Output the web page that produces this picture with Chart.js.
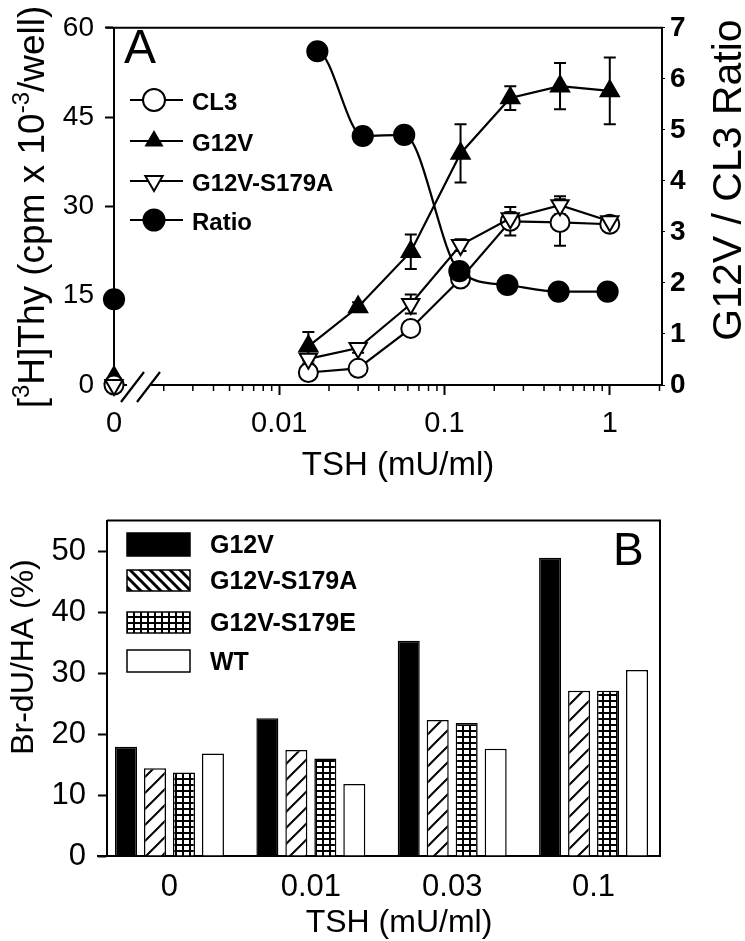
<!DOCTYPE html>
<html><head><meta charset="utf-8">
<script src="https://cdn.jsdelivr.net/npm/chart.js@4/dist/chart.umd.min.js"></script>
<style>
html,body{margin:0;padding:0;background:#fff;}
#wrapA{position:absolute;left:0;top:0;width:745px;height:490px;}
#wrapB{position:absolute;left:0;top:490px;width:745px;height:451px;}
canvas{display:block;}
</style></head><body>
<div id="wrapA"><canvas id="cA" width="745" height="490"></canvas></div>
<div id="wrapB"><canvas id="cB" width="745" height="451"></canvas></div>
<script>
// ================= Panel A data =================
const doses      = [0, 0.015, 0.03, 0.0625, 0.125, 0.25, 0.5, 1];
const cl3        = [0, 2.1, 2.8, 9.5, 17.8, 27.5, 27.3, 27.0];
const cl3Err     = [0, 0.6, 0.5, 1.2, 1.0, 2.4, 3.9, 0.8];
const g12v       = [1.3, 6.5, 13.1, 22.4, 38.9, 48.2, 50.2, 49.4];
const g12vErr    = [0, 2.4, 0.8, 2.9, 4.9, 2.0, 3.9, 5.6];
const s179a      = [0, 4.4, 6.2, 13.6, 23.5, 28.0, 30.2, 27.5];
const s179aErr   = [0, 0.8, 0.8, 1.6, 1.0, 1.0, 1.5, 0.8];
const ratioDoses = [0, 0.017, 0.032, 0.057, 0.123, 0.24, 0.49, 0.97];
const ratio      = [1.68, 6.54, 4.88, 4.90, 2.23, 1.96, 1.83, 1.83];
const xMajorTicks = [0, 0.01, 0.1, 1];
const xTickLabels = ['0', '0.01', '0.1', '1'];
const yLeftTicks  = [0, 15, 30, 45, 60];
const yRightTicks = [0, 1, 2, 3, 4, 5, 6, 7];

// ================= Panel B data =================
const barCategories = ['0', '0.01', '0.03', '0.1'];
const barG12V  = [17.9, 22.6, 35.3, 48.9];
const barS179A = [14.4, 17.4, 22.3, 27.1];
const barS179E = [13.7, 16.0, 21.8, 27.1];
const barWT    = [16.8, 11.8, 17.6, 30.5];
const barYTicks = [0, 10, 20, 30, 40, 50];

// ================= helpers =================
const FONT = "'Liberation Sans', Arial, Helvetica, sans-serif";
Chart.defaults.font.family = FONT;
Chart.defaults.color = '#000';

const ZERO_AT = 0.001; // position of the "0" dose left of the axis break
const xPos = d => d === 0 ? ZERO_AT : d;
const near = (a, b) => Math.abs(Math.log10(a) - Math.log10(b)) < 1e-6;
const majorPos = xMajorTicks.map(xPos);
const minorPos = [];
[0.001, 0.01, 0.1].forEach(dec => { for (let k = 2; k <= 9; k++) minorPos.push(+(k * dec).toPrecision(3)); });
minorPos.push(2);

function pts(xs, ys) { return ys.map((v, i) => ({x: xPos(xs[i]), y: v})); }

function drawMarker(ctx, style, x, y, r, fill, rot) {
  ctx.save(); ctx.beginPath();
  if (style === 'circle') ctx.arc(x, y, r, 0, Math.PI * 2);
  else {
    let a = (rot || 0) * Math.PI / 180;
    for (let k = 0; k < 3; k++) {
      const px = x + Math.sin(a) * r, py = y - Math.cos(a) * r;
      k ? ctx.lineTo(px, py) : ctx.moveTo(px, py);
      a += 2 * Math.PI / 3;
    }
    ctx.closePath();
  }
  ctx.fillStyle = fill; ctx.fill();
  ctx.lineWidth = 2; ctx.strokeStyle = '#000'; ctx.stroke();
  ctx.restore();
}

function rotText(ctx, segs, cx, cy, baseOff) {
  // text reading bottom-to-top, centered at (cx, cy)
  ctx.save();
  ctx.translate(cx, cy); ctx.rotate(-Math.PI / 2);
  ctx.textBaseline = 'alphabetic'; ctx.textAlign = 'left'; ctx.fillStyle = '#000';
  let total = 0;
  segs.forEach(s => { ctx.font = s.font; total += ctx.measureText(s.t).width; });
  let x = -total / 2;
  segs.forEach(s => { ctx.font = s.font; ctx.fillText(s.t, x, baseOff - (s.rise || 0)); x += ctx.measureText(s.t).width; });
  ctx.restore();
}

const hideSeg = c => c.p0DataIndex === 0 ? 'rgba(0,0,0,0)' : '#000';

// ================= Panel A =================
const errorBarsA = {
  id: 'errorBarsA',
  beforeDatasetsDraw(chart) {
    const ctx = chart.ctx;
    chart.data.datasets.forEach((ds, i) => {
      if (!ds.errors) return;
      const ys = chart.scales[ds.yAxisID || 'y'];
      chart.getDatasetMeta(i).data.forEach((p, j) => {
        const e = ds.errors[j]; if (!e) return;
        const v = ds.data[j].y;
        const t = ys.getPixelForValue(v + e), b = ys.getPixelForValue(v - e);
        ctx.save(); ctx.strokeStyle = '#000'; ctx.lineWidth = 2;
        ctx.beginPath();
        ctx.moveTo(p.x, t); ctx.lineTo(p.x, b);
        ctx.moveTo(p.x - 6, t); ctx.lineTo(p.x + 6, t);
        ctx.moveTo(p.x - 6, b); ctx.lineTo(p.x + 6, b);
        ctx.stroke(); ctx.restore();
      });
    });
  }
};

const decorA = {
  id: 'decorA',
  afterDraw(chart) {
    const ctx = chart.ctx, a = chart.chartArea, xs = chart.scales.x;
    ctx.save();
    // frame
    ctx.strokeStyle = '#000'; ctx.lineWidth = 2;
    ctx.beginPath();
    ctx.moveTo(a.left - 8, a.top); ctx.lineTo(a.right, a.top); ctx.lineTo(a.right, a.bottom);
    ctx.stroke();
    // minor ticks on log axis
    ctx.lineWidth = 1.5;
    ctx.beginPath();
    minorPos.forEach(v => { const x = xs.getPixelForValue(v); ctx.moveTo(x, a.bottom); ctx.lineTo(x, a.bottom + 6); });
    ctx.stroke();
    // axis break
    ctx.fillStyle = '#fff';
    ctx.fillRect(127, a.bottom - 3, 24, 7);
    ctx.lineWidth = 2.2;
    ctx.beginPath();
    ctx.moveTo(121, a.bottom + 17); ctx.lineTo(144, a.bottom - 13);
    ctx.moveTo(137, a.bottom + 17); ctx.lineTo(160, a.bottom - 13);
    ctx.stroke();
    // panel letter
    ctx.fillStyle = '#000';
    ctx.font = '48px ' + FONT; ctx.textBaseline = 'alphabetic'; ctx.textAlign = 'left';
    ctx.fillText('A', 124, 63);
    // legend
    const items = [
      {t: 'CL3', s: 'circle', f: '#fff', r: 11, rot: 0, y: 100},
      {t: 'G12V', s: 'triangle', f: '#000', r: 9, rot: 0, y: 141},
      {t: 'G12V-S179A', s: 'triangle', f: '#fff', r: 10, rot: 180, y: 181},
      {t: 'Ratio', s: 'circle', f: '#000', r: 10.5, rot: 0, y: 220}
    ];
    items.forEach(it => {
      ctx.strokeStyle = '#000'; ctx.lineWidth = 2;
      ctx.beginPath(); ctx.moveTo(130, it.y); ctx.lineTo(183, it.y); ctx.stroke();
      drawMarker(ctx, it.s, 154, it.y, it.r, it.f, it.rot);
      ctx.fillStyle = '#000'; ctx.font = 'bold 24px ' + FONT; ctx.textBaseline = 'middle';
      ctx.fillText(it.t, 192, it.y + 3);
    });
    // axis titles
    const m = '37px ' + FONT, s = '24px ' + FONT;
    rotText(ctx, [
      {t: '[', font: m}, {t: '3', font: s, rise: 15}, {t: 'H]Thy (cpm x 10', font: m},
      {t: '-3', font: s, rise: 15}, {t: '/well)', font: m}
    ], 31, 207, 13);
    rotText(ctx, [{t: 'G12V / CL3 Ratio', font: '41px ' + FONT}], 727, 180, 14);
    ctx.font = '33px ' + FONT; ctx.textAlign = 'center'; ctx.textBaseline = 'middle';
    ctx.fillText('TSH (mU/ml)', 398, 466);
    ctx.restore();
  }
};

new Chart(document.getElementById('cA'), {
  type: 'line',
  data: {
    datasets: [
      {label: 'Ratio', data: pts(ratioDoses, ratio), yAxisID: 'y2', order: 0,
       borderColor: '#000', borderWidth: 2.2, cubicInterpolationMode: 'monotone',
       pointStyle: 'circle', pointRadius: 10, pointBackgroundColor: '#000', pointBorderColor: '#000',
       segment: {borderColor: hideSeg}, clip: false},
      {label: 'G12V-S179A', data: pts(doses, s179a), errors: s179aErr, yAxisID: 'y', order: 1,
       borderColor: '#000', borderWidth: 2.2, pointStyle: 'triangle', rotation: 180, pointRadius: 10,
       pointBackgroundColor: '#fff', pointBorderColor: '#000', pointBorderWidth: 2,
       segment: {borderColor: hideSeg}, clip: false},
      {label: 'CL3', data: pts(doses, cl3), errors: cl3Err, yAxisID: 'y', order: 2,
       borderColor: '#000', borderWidth: 2.2, pointStyle: 'circle', pointRadius: 9.5,
       pointBackgroundColor: '#fff', pointBorderColor: '#000', pointBorderWidth: 2,
       segment: {borderColor: hideSeg}, clip: false},
      {label: 'G12V', data: pts(doses, g12v), errors: g12vErr, yAxisID: 'y', order: 3,
       borderColor: '#000', borderWidth: 2.2, pointStyle: 'triangle', pointRadius: 10.5,
       pointBackgroundColor: '#000', pointBorderColor: '#000', pointBorderWidth: 2,
       segment: {borderColor: hideSeg}, clip: false}
    ]
  },
  options: {
    responsive: false, animation: false, devicePixelRatio: 1,
    layout: {padding: {top: 18, left: 0, right: 0, bottom: 0}},
    plugins: {legend: {display: false}, tooltip: {enabled: false}},
    scales: {
      x: {
        type: 'logarithmic', position: 'bottom', min: ZERO_AT, max: 2.07,
        afterBuildTicks: s => { s.ticks = majorPos.concat(minorPos).sort((a, b) => a - b).map(v => ({value: v})); },
        afterFit: s => { s.height = 105; },
        ticks: {
          autoSkip: false, maxRotation: 0, minRotation: 0, padding: 12,
          font: {size: 29},
          callback: v => { const k = majorPos.findIndex(m => near(m, v)); return k >= 0 ? xTickLabels[k] : ''; }
        },
        grid: {display: true, drawOnChartArea: false, drawTicks: true, tickLength: 10, tickWidth: 2,
               tickColor: c => majorPos.some(m => near(m, c.tick.value)) ? '#000' : 'rgba(0,0,0,0)'},
        border: {display: true, color: '#000', width: 2}
      },
      y: {
        position: 'left', min: 0, max: 60,
        afterFit: s => { s.width = 114; },
        afterBuildTicks: s => { s.ticks = yLeftTicks.map(v => ({value: v})); },
        ticks: {font: {size: 28}, padding: 11},
        grid: {drawOnChartArea: false, tickLength: 9, tickWidth: 2, tickColor: '#000'},
        border: {display: true, color: '#000', width: 2}
      },
      y2: {
        position: 'right', min: 0, max: 7,
        afterFit: s => { s.width = 83; },
        afterBuildTicks: s => { s.ticks = yRightTicks.map(v => ({value: v})); },
        ticks: {font: {size: 28, weight: 'bold'}, padding: 5},
        grid: {drawOnChartArea: false, tickLength: 3, tickWidth: 1, tickColor: '#000'},
        border: {display: false}
      }
    }
  },
  plugins: [errorBarsA, decorA]
});

// ================= Panel B =================
function makePattern(w, h, draw) {
  const c = document.createElement('canvas'); c.width = w; c.height = h;
  const g = c.getContext('2d'); draw(g, w, h);
  return document.getElementById('cB').getContext('2d').createPattern(c, 'repeat');
}
const hatchBar = makePattern(16, 16, (g, w, h) => {
  g.fillStyle = '#fff'; g.fillRect(0, 0, w, h);
  g.strokeStyle = '#000'; g.lineWidth = 2;
  g.beginPath(); g.moveTo(-2, h + 2); g.lineTo(w + 2, -2);
  g.moveTo(-2, 2); g.lineTo(2, -2); g.moveTo(w - 2, h + 2); g.lineTo(w + 2, h - 2); g.stroke();
});
const hatchLegend = makePattern(10, 10, (g, w, h) => {
  g.fillStyle = '#fff'; g.fillRect(0, 0, w, h);
  g.strokeStyle = '#000'; g.lineWidth = 3;
  g.beginPath(); g.moveTo(-2, -2); g.lineTo(w + 2, h + 2);
  g.moveTo(w - 2, -2); g.lineTo(w + 2, 2); g.moveTo(-2, h - 2); g.lineTo(2, h + 2); g.stroke();
});
const gridPat = makePattern(7, 6, (g, w, h) => {
  g.fillStyle = '#000'; g.fillRect(0, 0, w, h);
  g.fillStyle = '#fff'; g.fillRect(2, 2, 5, 4);
});

const decorB = {
  id: 'decorB',
  afterDraw(chart) {
    const ctx = chart.ctx, a = chart.chartArea;
    ctx.save();
    ctx.strokeStyle = '#000'; ctx.lineWidth = 2;
    ctx.beginPath();
    ctx.moveTo(a.left, a.top); ctx.lineTo(a.right, a.top); ctx.lineTo(a.right, a.bottom);
    ctx.moveTo(a.left - 10, a.bottom); ctx.lineTo(a.left, a.bottom);
    ctx.stroke();
    ctx.fillStyle = '#000'; ctx.font = '46px ' + FONT; ctx.textBaseline = 'alphabetic'; ctx.textAlign = 'left';
    ctx.fillText('B', 613, 75);
    const items = [
      {t: 'G12V', f: '#000', y0: 43, y1: 66},
      {t: 'G12V-S179A', f: hatchLegend, y0: 80, y1: 101},
      {t: 'G12V-S179E', f: gridPat, y0: 122, y1: 143},
      {t: 'WT', f: '#fff', y0: 160, y1: 182}
    ];
    items.forEach(it => {
      ctx.fillStyle = it.f; ctx.fillRect(127, it.y0, 63, it.y1 - it.y0);
      ctx.lineWidth = 1.5; ctx.strokeStyle = '#000'; ctx.strokeRect(127, it.y0, 63, it.y1 - it.y0);
      ctx.fillStyle = '#000'; ctx.font = 'bold 25px ' + FONT; ctx.textBaseline = 'middle';
      ctx.fillText(it.t, 210, (it.y0 + it.y1) / 2 + 2);
    });
    rotText(ctx, [{t: 'Br-dU/HA (%)', font: '32px ' + FONT}], 22, 167, 11);
    ctx.font = '32px ' + FONT; ctx.textAlign = 'center'; ctx.textBaseline = 'middle';
    ctx.fillText('TSH (mU/ml)', 399, 433);
    ctx.restore();
  }
};

const barPts = vals => vals.map((v, i) => ({x: i, y: v}));
new Chart(document.getElementById('cB'), {
  type: 'bar',
  data: {
    datasets: [
      {label: 'G12V', data: barPts(barG12V), backgroundColor: '#000', borderColor: '#000', borderWidth: 1.5},
      {label: 'G12V-S179A', data: barPts(barS179A), backgroundColor: hatchBar, borderColor: '#000', borderWidth: 1.5},
      {label: 'G12V-S179E', data: barPts(barS179E), backgroundColor: gridPat, borderColor: '#000', borderWidth: 1.5},
      {label: 'WT', data: barPts(barWT), backgroundColor: '#fff', borderColor: '#000', borderWidth: 1.5}
    ]
  },
  options: {
    responsive: false, animation: false, devicePixelRatio: 1,
    layout: {padding: {top: 25, left: 0, right: 85, bottom: 0}},
    plugins: {legend: {display: false}, tooltip: {enabled: false}},
    datasets: {bar: {categoryPercentage: 0.82, barPercentage: 0.76}},
    scales: {
      x: {
        type: 'linear', min: -0.442, max: 3.47, offset: false,
        afterBuildTicks: s => { s.ticks = barCategories.map((c, i) => ({value: i})); },
        afterFit: s => { s.height = 85; },
        ticks: {autoSkip: false, maxRotation: 0, padding: 5, font: {size: 31},
                callback: v => barCategories[v]},
        grid: {display: false},
        border: {display: true, color: '#000', width: 2}
      },
      y: {
        min: 0, max: 55,
        afterFit: s => { s.width = 107; },
        afterBuildTicks: s => { s.ticks = barYTicks.map(v => ({value: v})); },
        ticks: {font: {size: 31}, padding: 12},
        grid: {drawOnChartArea: false, tickLength: 9, tickWidth: 2, tickColor: '#000'},
        border: {display: true, color: '#000', width: 2}
      }
    }
  },
  plugins: [decorB]
});
</script>
</body></html>
